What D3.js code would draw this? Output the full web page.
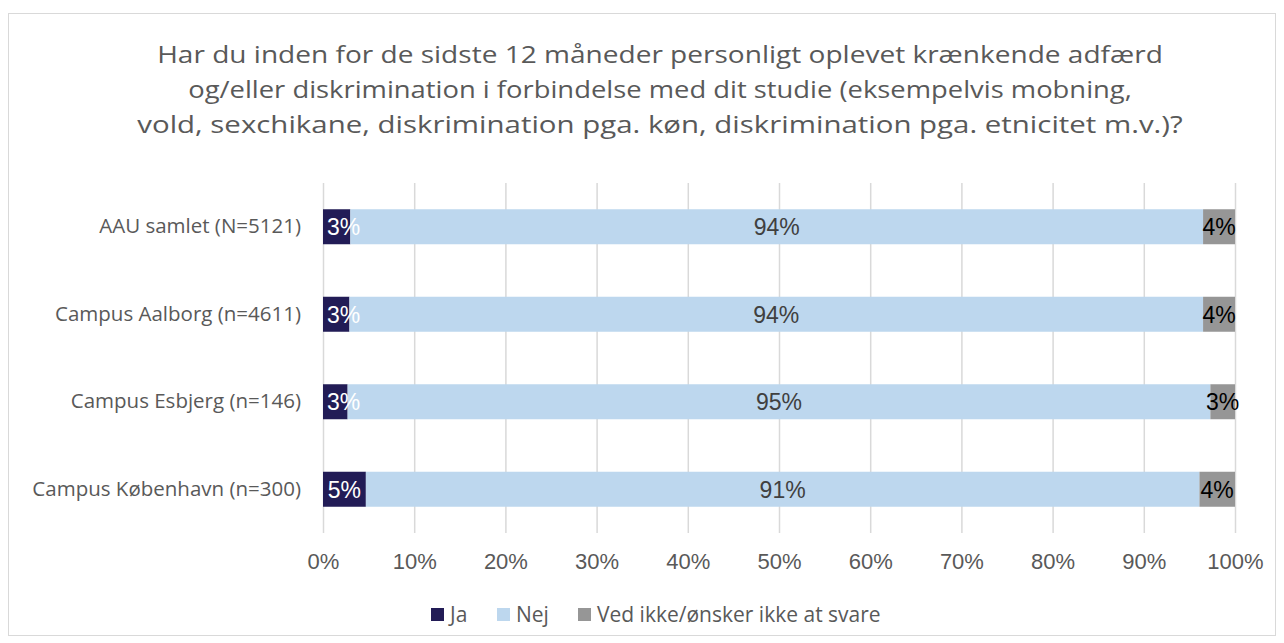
<!DOCTYPE html>
<html><head><meta charset="utf-8">
<script src="https://cdn.jsdelivr.net/npm/d3@7"></script>
<style>body{margin:0;background:#fff}svg{display:block}</style>
</head><body>
<svg id="c" width="1284" height="643"></svg>
<script>
const categories = ["AAU samlet (N=5121)", "Campus Aalborg (n=4611)", "Campus Esbjerg (n=146)", "Campus København (n=300)"];
const seriesNames = ["Ja", "Nej", "Ved ikke/ønsker ikke at svare"];
const ja  = [3.0, 2.9, 2.7, 4.7];
const nej = [93.5, 93.6, 94.6, 91.4];
const ved = [3.5, 3.5, 2.7, 3.9];
const ticks = [0,10,20,30,40,50,60,70,80,90,100];
const titleLines = [
  "Har du inden for de sidste 12 måneder personligt oplevet krænkende adfærd",
  "og/eller diskrimination i forbindelse med dit studie (eksempelvis mobning,",
  "vold, sexchikane, diskrimination pga. køn, diskrimination pga. etnicitet m.v.)?"
];
const colors = ["#221c56", "#bdd7ee", "#969696"];
const labelColors = ["#ffffff", "#404040", "#000000"];

const svg = d3.select("#c");
const font = "'Open Sans', 'Noto Sans', sans-serif";
const arial = "'Liberation Sans', Arial, sans-serif";
svg.append("rect").attr("x",8.5).attr("y",13.5).attr("width",1267).attr("height",622)
  .attr("fill","#fff").attr("stroke","#d9d9d9").attr("stroke-width",1);

svg.append("g").selectAll("text").data(titleLines).join("text")
  .attr("x",660).attr("y",(d,i)=>63+i*35).attr("text-anchor","middle")
  .attr("font-family",font).attr("font-size",24).attr("fill","#595959")
  .text(d=>d)
  .each(function(d,i){
    const target = [1006, 944, 1046][i];
    const w = this.getComputedTextLength();
    const s = target / w;
    d3.select(this).attr("transform",`translate(660,0) scale(${s},1) translate(-660,0)`);
  });

const x = d3.scaleLinear().domain([0,100]).range([323,1235]);
const y = d3.scaleBand().domain(categories).range([183,533]).paddingInner(0.6).paddingOuter(0.3);

svg.append("g").selectAll("line").data(ticks).join("line")
  .attr("x1",d=>x(d)+0.5).attr("x2",d=>x(d)+0.5).attr("y1",183).attr("y2",533)
  .attr("stroke","#d9d9d9").attr("stroke-width",1.5);

const xAxis = svg.append("g").attr("transform","translate(0,533)")
  .call(d3.axisBottom(x).tickValues(ticks).tickFormat(d=>d+"%").tickSize(0));
xAxis.select(".domain").remove();
xAxis.selectAll("text").attr("y",36).attr("dy",0)
  .attr("font-family",arial).attr("font-size",22).attr("fill","#595959");

const yAxis = svg.append("g").attr("transform","translate(301,0)")
  .call(d3.axisLeft(y).tickSize(0).tickPadding(0));
yAxis.select(".domain").remove();
yAxis.selectAll("text").attr("font-family",font).attr("font-size",20.5).attr("fill","#595959");

const rows = categories.map((c,i)=>({cat:c, vals:[ja[i],nej[i],ved[i]]}));
const stack = d3.stack().keys([0,1,2]).value((d,k)=>d.vals[k])(rows);

stack.forEach((layer,k)=>{
  svg.append("g").selectAll("rect").data(layer).join("rect")
    .attr("x",d=>x(d[0])).attr("width",d=>x(d[1])-x(d[0]))
    .attr("y",d=>y(d.data.cat)).attr("height",y.bandwidth())
    .attr("fill",colors[k]);
});
stack.forEach((layer,k)=>{
  svg.append("g").selectAll("text").data(layer).join("text")
    .attr("x",d=>(x(d[0])+x(d[1]))/2).attr("y",d=>y(d.data.cat)+y.bandwidth()/2)
    .attr("dy","0.36em").attr("text-anchor","middle")
    .attr("font-family",arial).attr("font-size",23).attr("fill",labelColors[k])
    .text(d=>Math.round(d[1]-d[0])+"%")
    .each(function(){
      // keep labels inside the plot area, as the reference does
      const w = this.getComputedTextLength();
      const cx = +d3.select(this).attr("x");
      const minX = x(0) + 4 + w/2, maxX = x(100) + 3 - w/2;
      d3.select(this).attr("x", Math.min(Math.max(cx, minX), Math.max(maxX, cx)));
    });
});

const legX = [431, 497, 578];
const leg = svg.append("g");
seriesNames.forEach((n,i)=>{
  leg.append("rect").attr("x",legX[i]).attr("y",608).attr("width",13).attr("height",13).attr("fill",colors[i]);
  leg.append("text").attr("x",legX[i]+19).attr("y",614.5).attr("dy","0.35em")
    .attr("font-family",font).attr("font-size",21).attr("fill","#595959").text(n);
});
</script>
</body></html>
